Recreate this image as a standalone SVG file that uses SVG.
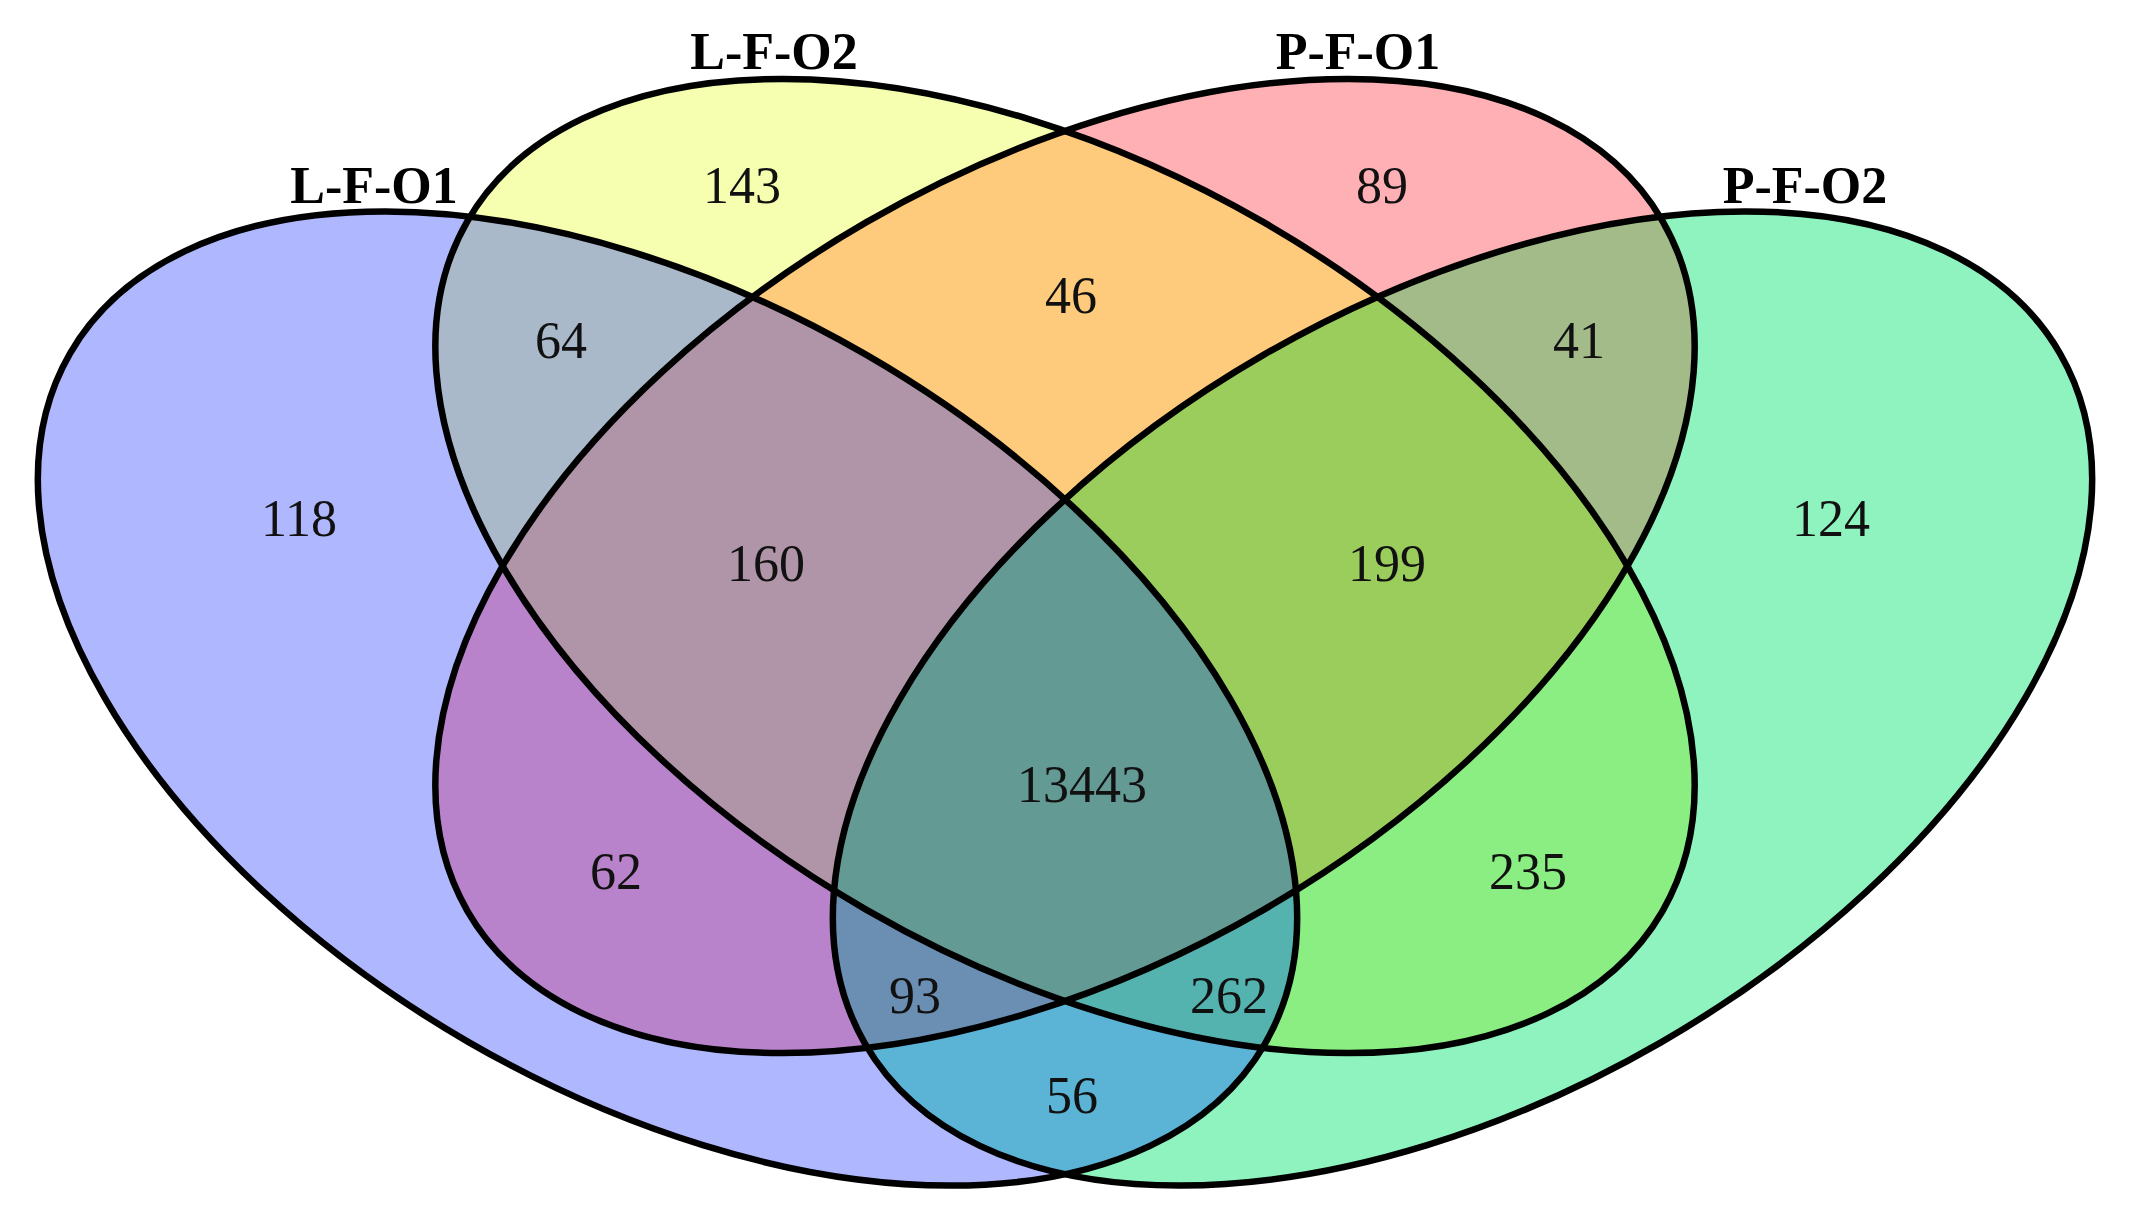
<svg xmlns="http://www.w3.org/2000/svg" xmlns:xlink="http://www.w3.org/1999/xlink" width="2133" height="1230" viewBox="0 0 2133 1230">
<style>
.num{font-family:"Liberation Serif","Times New Roman",serif;font-size:52px;fill:#111;text-anchor:middle}
.lab{font-family:"Liberation Serif","Times New Roman",serif;font-size:52px;font-weight:bold;fill:#000;text-anchor:middle}
.outline{fill:none;stroke:#000;stroke-width:6.5}
</style>
<defs>
<ellipse id="eB" cx="667.5" cy="698.5" rx="690" ry="397" transform="rotate(30 667.5 698.5)"/>
<ellipse id="eY" cx="1065" cy="566" rx="690" ry="397" transform="rotate(30 1065 566)"/>
<ellipse id="eP" cx="1065" cy="566" rx="690" ry="397" transform="rotate(-30 1065 566)"/>
<ellipse id="eG" cx="1462.5" cy="698.5" rx="690" ry="397" transform="rotate(-30 1462.5 698.5)"/>
<clipPath id="cB"><use xlink:href="#eB"/></clipPath>
<clipPath id="cY"><use xlink:href="#eY"/></clipPath>
<clipPath id="cP"><use xlink:href="#eP"/></clipPath>
<clipPath id="cG"><use xlink:href="#eG"/></clipPath>
</defs>
<rect width="2133" height="1230" fill="#ffffff"/>
<g id="region-fills">
<use xlink:href="#eB" fill="#AFB8FE"/>
<use xlink:href="#eG" fill="#8FF3BF"/>
<use xlink:href="#eY" fill="#F5FFAF"/>
<use xlink:href="#eP" fill="#FFB0B5"/>
<g clip-path="url(#cY)"><use xlink:href="#eB" fill="#AAB9C9"/></g>
<g clip-path="url(#cP)"><use xlink:href="#eB" fill="#B883CB"/></g>
<g clip-path="url(#cG)"><use xlink:href="#eB" fill="#5BB3D5"/></g>
<g clip-path="url(#cP)"><use xlink:href="#eY" fill="#FECA7C"/></g>
<g clip-path="url(#cG)"><use xlink:href="#eY" fill="#8BEE82"/></g>
<g clip-path="url(#cG)"><use xlink:href="#eP" fill="#A2BB88"/></g>
<g clip-path="url(#cY)"><g clip-path="url(#cP)"><use xlink:href="#eB" fill="#B094A8"/></g></g>
<g clip-path="url(#cY)"><g clip-path="url(#cG)"><use xlink:href="#eB" fill="#55B3AF"/></g></g>
<g clip-path="url(#cP)"><g clip-path="url(#cG)"><use xlink:href="#eB" fill="#6A8FB3"/></g></g>
<g clip-path="url(#cP)"><g clip-path="url(#cG)"><use xlink:href="#eY" fill="#9ACD5C"/></g></g>
<g clip-path="url(#cY)"><g clip-path="url(#cP)"><g clip-path="url(#cG)"><use xlink:href="#eB" fill="#639A94"/></g></g></g>
</g>
<g id="set-L-F-O1">
<use xlink:href="#eB" class="outline"/>
<text class="lab" x="374" y="203">L-F-O1</text>
</g>
<g id="set-L-F-O2">
<use xlink:href="#eY" class="outline"/>
<text class="lab" x="774" y="69">L-F-O2</text>
</g>
<g id="set-P-F-O1">
<use xlink:href="#eP" class="outline"/>
<text class="lab" x="1358" y="69">P-F-O1</text>
</g>
<g id="set-P-F-O2">
<use xlink:href="#eG" class="outline"/>
<text class="lab" x="1805" y="203">P-F-O2</text>
</g>
<g id="region-counts">
<text class="num" x="742" y="203">143</text>
<text class="num" x="1382" y="203">89</text>
<text class="num" x="561" y="358">64</text>
<text class="num" x="1071" y="313">46</text>
<text class="num" x="1579" y="358">41</text>
<text class="num" x="299" y="536">118</text>
<text class="num" x="1831" y="536">124</text>
<text class="num" x="766" y="581">160</text>
<text class="num" x="1387" y="581">199</text>
<text class="num" x="1082" y="802">13443</text>
<text class="num" x="616" y="889">62</text>
<text class="num" x="1528" y="889">235</text>
<text class="num" x="915" y="1013">93</text>
<text class="num" x="1229" y="1013">262</text>
<text class="num" x="1072" y="1113">56</text>
</g>
</svg>
